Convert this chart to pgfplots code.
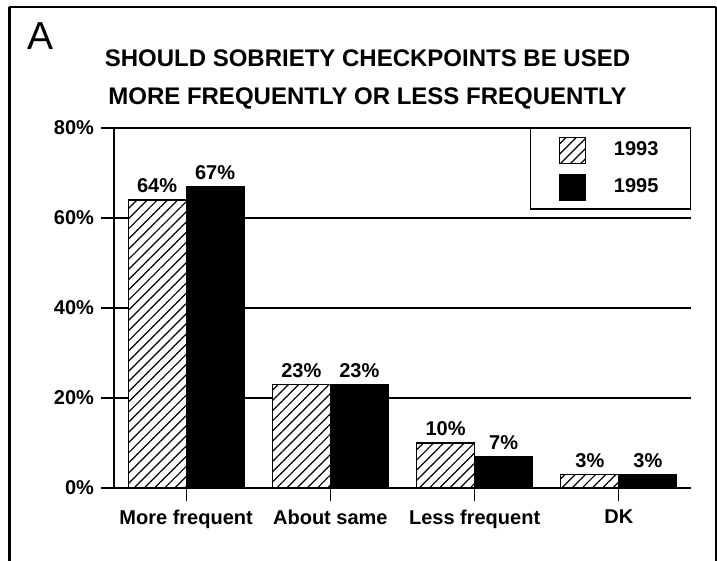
\documentclass[border=0pt]{standalone}
\usepackage{fontspec}
\setmainfont{Liberation Sans}
\usepackage{pgfplots}
\pgfplotsset{compat=1.18}
\usetikzlibrary{patterns.meta}

\newcommand{\lbl}{\bfseries\fontsize{10}{12}\selectfont}

\begin{document}
\begin{tikzpicture}
\useasboundingbox (0pt,0pt) rectangle (358.5pt,280.5pt);
% frame
\draw[line width=1.4pt] (4.8pt,0pt) -- (4.8pt,277pt);
\draw[line width=1pt] (4.3pt,277pt) -- (358pt,277pt);
\draw[line width=0.7pt] (358pt,277pt) -- (358pt,0pt);
% panel letter and title
\node[anchor=base west, inner sep=0pt, font=\fontsize{19.5}{22}\selectfont] at (13.5pt,255.5pt) {A};
\node[anchor=base, inner sep=0pt, font=\bfseries\fontsize{12}{14}\selectfont] at (183.75pt,247pt) {SHOULD SOBRIETY CHECKPOINTS BE USED};
\node[anchor=base, inner sep=0pt, font=\bfseries\fontsize{12}{14}\selectfont] at (183.75pt,228pt) {MORE FREQUENTLY OR LESS FREQUENTLY};

\begin{axis}[
    at={(57pt,36.5pt)}, anchor=south west,
    scale only axis, width=288.5pt, height=180pt,
    ybar=0pt, bar width=29pt,
    xmin=-0.5, xmax=3.5, ymin=0, ymax=80,
    enlargelimits=false,
    xtick={0,1,2,3},
    xticklabels={More frequent, About same, Less frequent, DK},
    ytick={0,20,40,60,80},
    yticklabels={0\%,20\%,40\%,60\%,80\%},
    axis x line*=bottom, axis y line*=left,
    axis line style={-, line width=0.6pt},
    ymajorgrids, grid style={black, line width=0.6pt},
    tick align=outside, major tick length=6.5pt,
    tick style={black, line width=0.6pt},
    ticklabel style={font=\lbl},
    xticklabel style={yshift=-1pt},
    /pgf/number format/assume math mode=true,
    nodes near coords={\pgfmathprintnumber{\pgfplotspointmeta}\%},
    every node near coord/.append style={font=\lbl, black},
    legend style={at={(1,1)}, anchor=north east, draw=black,
        line width=0.6pt, font=\lbl, inner xsep=14pt, inner ysep=4pt,
        row sep=5pt, column sep=12pt},
    legend cell align=left,
    legend image code/.code={\draw[#1] (0pt,-6.5pt) rectangle (13pt,6.5pt);},
]
\addplot[draw=black, line width=0.6pt, fill=white,
    postaction={pattern={Lines[angle=45, distance=3.6pt, line width=0.6pt]}}]
    coordinates {(0,64) (1,23) (2,10) (3,3)};
\addplot[draw=black, line width=0.6pt, fill=black]
    coordinates {(0,67) (1,23) (2,7) (3,3)};
\legend{1993, 1995}
\end{axis}
\end{tikzpicture}
\end{document}
